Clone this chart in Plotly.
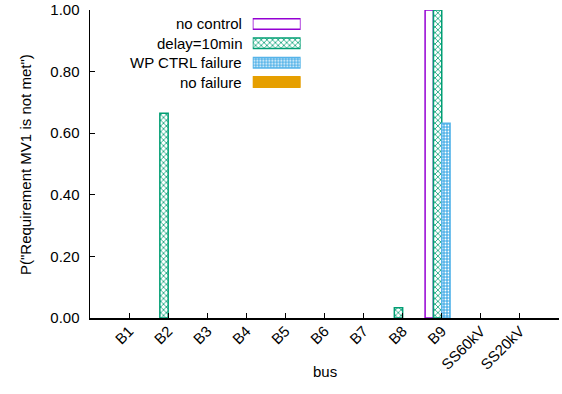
import plotly.graph_objects as go

# ---- data ----
buses = ["B1", "B2", "B3", "B4", "B5", "B6", "B7", "B8", "B9", "SS60kV", "SS20kV"]
no_control = [0, 0, 0, 0, 0, 0, 0, 0, 1.0, 0, 0]
delay_10min = [0, 0.665, 0, 0, 0, 0, 0, 0.033, 1.0, 0, 0]
wp_ctrl_failure = [0, 0, 0, 0, 0, 0, 0, 0, 0.632, 0, 0]
no_failure = [0, 0, 0, 0, 0, 0, 0, 0, 0, 0, 0]
series_names = ["no control", "delay=10min", "WP CTRL failure", "no failure"]
y_ticks = [0.0, 0.2, 0.4, 0.6, 0.8, 1.0]
y_tick_labels = ["0.00", "0.20", "0.40", "0.60", "0.80", "1.00"]
x_title = "bus"
y_title = 'P("Requirement MV1 is not met")'

# ---- styles ----
FONT = "Liberation Sans, Arial, Helvetica, sans-serif"
purple = "#9400d3"
green = "#009e73"
blue = "#56b4e9"
orange = "#e69f00"
BW = 0.213  # bar width in category units

styles = [
    dict(marker=dict(color="white", line=dict(color=purple, width=1.5))),
    dict(marker=dict(color="white", line=dict(color=green, width=1.5),
                     pattern=dict(shape="x", fgcolor=green, bgcolor="white",
                                  size=4, solidity=0.35, fillmode="replace"))),
    dict(marker=dict(color=blue, line=dict(color=blue, width=1.5),
                     pattern=dict(shape=".", fgcolor="white", bgcolor=blue,
                                  size=3, solidity=0.3, fillmode="replace"))),
    dict(marker=dict(color=orange, line=dict(color=orange, width=1.5))),
]

series_values = [no_control, delay_10min, wp_ctrl_failure, no_failure]

fig = go.Figure()
for i, (name, vals, st) in enumerate(zip(series_names, series_values, styles)):
    # zero-height bars are invisible in the reference (no stroke drawn)
    shown = [v if v > 0 else None for v in vals]
    fig.add_trace(go.Bar(
        x=buses, y=shown, name=name, width=BW, offset=(i - 2) * BW,
        showlegend=False, hoverinfo="skip", **st,
    ))

# ---- custom gnuplot-like legend (text, then swatch) ----
legend_rows = list(range(len(series_names)))
for i, (name, st) in enumerate(zip(series_names, styles)):
    fig.add_trace(go.Bar(
        x=[1], y=[legend_rows[i]], orientation="h", width=0.54,
        xaxis="x2", yaxis="y2", showlegend=False, hoverinfo="skip", **st,
    ))
    fig.add_annotation(
        x=0, y=legend_rows[i], xref="x2", yref="y2", text=name,
        xanchor="right", yanchor="middle", xshift=-9, showarrow=False,
        font=dict(family=FONT, size=15, color="black"),
    )

# axis titles as annotations for precise placement
fig.add_annotation(x=0.5, y=-0.175, xref="paper", yref="paper", text=x_title,
                   showarrow=False, xanchor="center", yanchor="middle",
                   font=dict(family=FONT, size=15, color="black"))
fig.add_annotation(x=-0.1386, y=0.5, xref="paper", yref="paper", text=y_title,
                   showarrow=False, xanchor="center", yanchor="middle",
                   textangle=-90, font=dict(family=FONT, size=15, color="black"))

fig.update_layout(
    width=562, height=394,
    margin=dict(l=90, r=3, t=10, b=76),
    paper_bgcolor="white", plot_bgcolor="white",
    barmode="overlay",
    font=dict(family=FONT, size=15, color="black"),
    xaxis=dict(
        type="category", categoryorder="array", categoryarray=buses,
        range=[-1, 11], showline=True, linecolor="black", linewidth=1.5,
        ticks="inside", ticklen=5, tickcolor="black", tickwidth=1,
        tickangle=-45, showgrid=False, zeroline=False, automargin=False,
        ticklabelstandoff=-3, ticklabeloverflow="allow", tickfont=dict(size=15),
    ),
    yaxis=dict(
        range=[0, 1], tickvals=y_ticks, ticktext=y_tick_labels,
        showline=True, linecolor="black", linewidth=1.5,
        ticks="inside", ticklen=5, tickcolor="black", tickwidth=1,
        showgrid=False, zeroline=False, ticklabelstandoff=6, automargin=False,
        ticklabeloverflow="allow", tickfont=dict(size=15),
    ),
    xaxis2=dict(domain=[0.347, 0.449], range=[0, 1], anchor="y2",
                visible=False, fixedrange=True),
    yaxis2=dict(domain=[0.7347, 0.986], range=[3.5, -0.5], anchor="x2",
                visible=False, fixedrange=True),
)

# remove the page's default 8px body margin so the figure fills the window
fig.write_html("out.html",
               config={"displayModeBar": False, "staticPlot": True},
               post_script="document.body.style.margin='0';"
                           "document.body.style.overflow='hidden';")
